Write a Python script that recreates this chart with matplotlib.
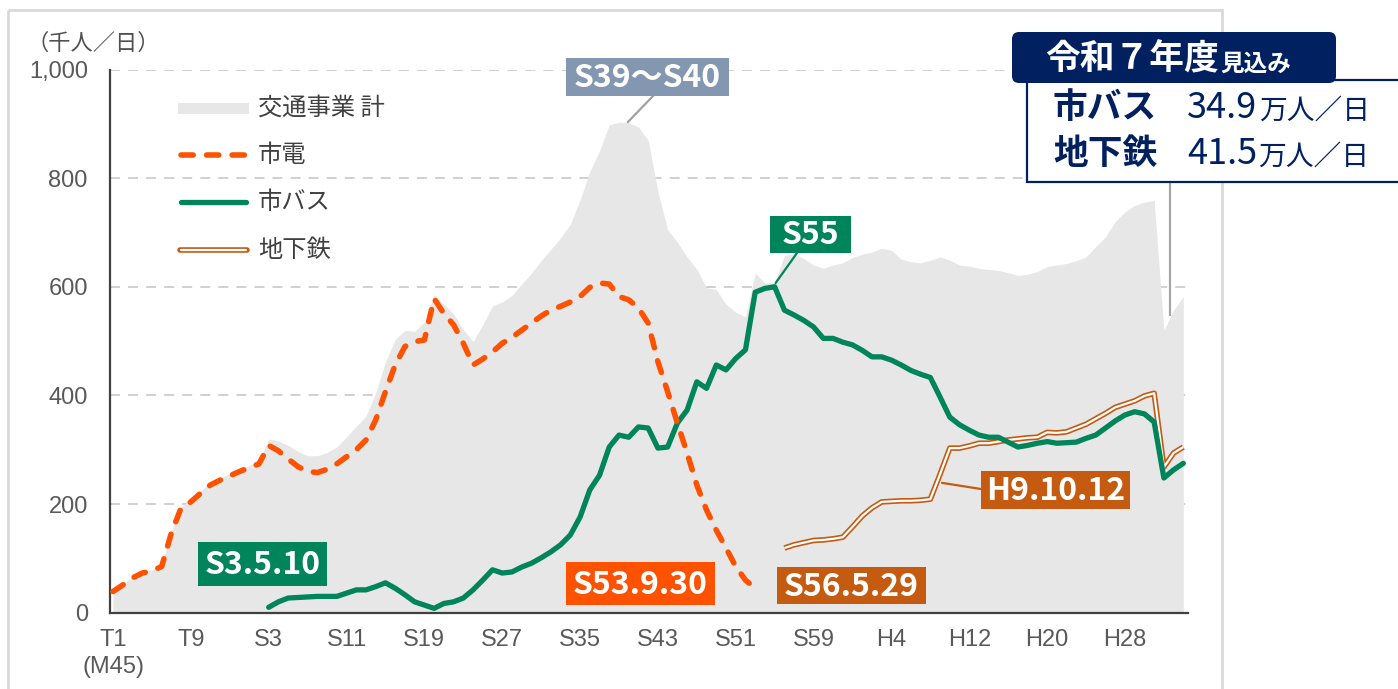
import matplotlib
matplotlib.use("Agg")
import matplotlib.pyplot as plt
from matplotlib.patches import Rectangle, FancyBboxPatch
from matplotlib.lines import Line2D
from matplotlib.text import Annotation
from matplotlib.transforms import Affine2D

plt.rcParams['font.family'] = ['Noto Sans CJK JP', 'DejaVu Sans']

W, H = 1398, 689

# 乗車人員（千人／日）
total_years = list(range(1912, 2023))
total = [42, 53, 66, 75, 79, 88, 150, 196, 208, 224,
         239, 248, 256, 264, 271, 280, 320, 316, 308, 297,
         289, 289, 295, 305, 324, 343, 362, 405, 462, 503,
         520, 518, 535, 586, 568, 550, 521, 499, 530, 565,
         572, 584, 605, 625, 648, 669, 690, 715, 760, 812,
         850, 898, 903, 902, 894, 870, 775, 705, 682, 655,
         632, 598, 595, 568, 553, 545, 625, 607, 608, 658,
         661, 652, 640, 634, 640, 644, 654, 660, 664, 671,
         667, 651, 646, 644, 649, 655, 649, 640, 638, 634,
         632, 630, 626, 621, 623, 628, 637, 640, 643, 648,
         655, 674, 692, 720, 738, 750, 756, 759, 520, 557,
         582]

tram_years = list(range(1912, 1979))
tram = [39, 51, 64, 73, 77, 85, 147, 193, 204, 220,
        235, 244, 252, 260, 267, 274, 308, 298, 283, 269,
        260, 258, 264, 274, 287, 300, 318, 355, 407, 456,
        490, 499, 502, 578, 551, 530, 496, 456, 467, 480,
        496, 507, 520, 533, 546, 557, 564, 572, 582, 599,
        607, 605, 582, 576, 561, 533, 462, 407, 349, 294,
        235, 189, 152, 119, 85, 60, 45]

bus_years = list(range(1928, 2023))
bus = [10, 20, 27, 28, 29, 30, 30, 30, 36, 42,
       42, 48, 55, 45, 33, 20, 14, 8, 17, 20,
       27, 42, 60, 79, 73, 75, 84, 91, 101, 112,
       125, 143, 176, 226, 253, 305, 327, 323, 342, 340,
       303, 305, 349, 373, 425, 413, 456, 447, 468, 484,
       590, 597, 600, 557, 548, 538, 526, 505, 505, 498,
       493, 483, 471, 471, 465, 456, 446, 439, 433, 397,
       360, 346, 336, 327, 323, 323, 314, 305, 308, 312,
       315, 312, 313, 314, 321, 327, 340, 353, 364, 370,
       366, 351, 248, 263, 275]

subway_years = list(range(1981, 2023))
subway = [119, 125, 129, 133, 134, 136, 139, 158, 178, 193,
          204, 205, 206, 206, 207, 209, 255, 303, 303, 307,
          312, 312, 315, 318, 320, 322, 323, 332, 331, 333,
          340, 347, 357, 367, 378, 384, 390, 399, 404, 268,
          294, 305]

xtick_years = list(range(1912, 2017, 8))
xtick_labels = ["T1\n(M45)", "T9", "S3", "S11", "S19", "S27", "S35", "S43",
                "S51", "S59", "H4", "H12", "H20", "H28"]
yticks = [0, 200, 400, 600, 800, 1000]
ylabels = ["0", "200", "400", "600", "800", "1,000"]

C_TOTAL = '#E7E7E7'
C_TRAM = '#FF5200'
C_BUS = '#00845A'
C_SUB = '#C55A11'
C_PEAK = '#8497B0'
NAVY = '#002060'

fig = plt.figure(figsize=(W / 100, H / 100), dpi=100)
# 画像ピクセル座標（上が0）
pix = Affine2D().scale(1 / W, -1 / H).translate(0, 1) + fig.transFigure

# 外枠
fig.add_artist(Rectangle((8, 10), 1214, 700, transform=pix, fill=False,
                         edgecolor='#D9D9D9', lw=2, zorder=0))

ax = fig.add_axes([110 / W, 1 - 612.7 / H, (1188 - 110) / W, (612.7 - 69.5) / H])
ax.patch.set_alpha(0)
ax.set_xlim(1911.69, 2022.48)
ax.set_ylim(0, 1000)

ax.fill_between(total_years, total, 0, color=C_TOTAL, lw=0, zorder=1)
ax.plot(subway_years, subway, color=C_SUB, lw=4.0, solid_capstyle='butt', zorder=3)
ax.plot(subway_years, subway, color='white', lw=1.6, solid_capstyle='butt', zorder=3.1)
ax.plot(bus_years, bus, color=C_BUS, lw=3.8, solid_capstyle='round', zorder=4)
ax.plot(tram_years, tram, color=C_TRAM, lw=4.0, dashes=(2.2, 2.4),
        dash_capstyle='round', zorder=5)

for s in ['top', 'right']:
    ax.spines[s].set_visible(False)
for s in ['left', 'bottom']:
    ax.spines[s].set_color('#404040')
    ax.spines[s].set_linewidth(1.6)

ax.set_yticks(yticks)
ax.set_yticklabels(ylabels)
ax.set_xticks(xtick_years)
ax.set_xticklabels(xtick_labels)
ax.tick_params(axis='y', length=0, pad=16, labelsize=17, labelcolor='#595959')
ax.tick_params(axis='x', length=0, pad=12, labelsize=17, labelcolor='#595959')
for lab in ax.get_xticklabels() + ax.get_yticklabels():
    lab.set_fontfamily('Liberation Sans')
    lab.set_linespacing(1.3)
ax.yaxis.grid(True, color='#CDCDCD', lw=1.3, linestyle=(0, (5.5, 4.5)))
ax.set_axisbelow(True)

fig.text(27, 43, '（千人／日）', transform=pix, fontsize=16, color='#505050',
         va='center', ha='left')

# 凡例
fig.add_artist(Rectangle((178, 103), 71, 11, transform=pix, color=C_TOTAL, lw=0, zorder=2))
fig.add_artist(Line2D([181, 246], [155, 155], transform=pix, color=C_TRAM, lw=4.0,
                      dashes=(2.2, 2.4), dash_capstyle='round', zorder=2))
fig.add_artist(Line2D([181, 246], [202, 202], transform=pix, color=C_BUS, lw=3.8,
                      solid_capstyle='round', zorder=2))
fig.add_artist(Line2D([180, 247], [250, 250], transform=pix, color=C_SUB, lw=4.0,
                      solid_capstyle='round', zorder=2))
fig.add_artist(Line2D([181, 246], [250, 250], transform=pix, color='white', lw=1.6,
                      solid_capstyle='round', zorder=2.1))
for yy, name in zip([108, 155, 202, 250], ['交通事業 計', '市電', '市バス', '地下鉄']):
    fig.text(258, yy, name, transform=pix, fontsize=17.5, color='#404040',
             va='center', ha='left', zorder=3)


def label_box(x0, y0, x1, y1, text, color, size=23):
    fig.add_artist(Rectangle((x0, y0), x1 - x0, y1 - y0, transform=pix,
                             facecolor=color, edgecolor='none', zorder=6))
    fig.text((x0 + x1) / 2, (y0 + y1) / 2 + 1, text, transform=pix, color='white',
             fontsize=size, fontweight='bold', ha='center', va='center', zorder=7)


def leader(xy, txt_px, color, lw=1.6):
    ax.annotate('', xy=xy, xycoords='data', xytext=txt_px, textcoords=pix,
                arrowprops=dict(arrowstyle='-', color=color, lw=lw,
                                shrinkA=0, shrinkB=0),
                annotation_clip=False, zorder=6)


def text_after(prev, s, size, weight='normal'):
    # 直前のテキストの右隣に置く
    a = Annotation(s, xy=(1, 0), xycoords=prev, xytext=(1, 0),
                   textcoords='offset points', fontsize=size, color=prev.get_color(),
                   fontweight=weight, va='bottom', ha='left', zorder=10)
    fig.add_artist(a)
    return a


leader((1964.9, 903), (654, 95), '#A0A0A0')
leader((1980.1, 607), (797, 253), C_BUS)
leader((1997.2, 239), (981, 489), C_SUB)

label_box(566, 58, 729, 96, 'S39〜S40', C_PEAK)
label_box(770, 216, 851, 253, 'S55', C_BUS)
label_box(198, 542, 327, 586, 'S3.5.10', C_BUS)
label_box(566, 562, 715, 605, 'S53.9.30', C_TRAM)
label_box(777, 567, 926, 604, 'S56.5.29', C_SUB)
label_box(981, 471, 1130, 509, 'H9.10.12', C_SUB)

# 令和7年度見込み
fig.add_artist(Line2D([1170, 1170], [183, 315], transform=pix, color='#A6A6A6',
                      lw=1.6, zorder=7))
fig.add_artist(Rectangle((1027, 80), 400, 102, transform=pix, facecolor='white',
                         edgecolor=NAVY, lw=1.6, zorder=8))
fig.add_artist(FancyBboxPatch((1012, 32), 324, 51, transform=pix,
                              boxstyle='round,pad=0,rounding_size=7',
                              facecolor=NAVY, edgecolor='none', zorder=9))
t_head = fig.text(1045, 69, '令和７年度', transform=pix, fontsize=25, color='white',
                  fontweight='bold', va='baseline', ha='left', zorder=10)
text_after(t_head, '見込み', 17, 'bold')

for yy, name, val in [(118, '市バス', '34.9'), (164, '地下鉄', '41.5')]:
    fig.text(1053, yy, name, transform=pix, fontsize=25, color=NAVY,
             fontweight='bold', va='baseline', ha='left', zorder=10)
    t_val = fig.text(1187, yy, val, transform=pix, fontsize=26, color=NAVY,
                     va='baseline', ha='left', zorder=10)
    text_after(t_val, '万人／日', 20)

fig.savefig('out.png', dpi=100)
